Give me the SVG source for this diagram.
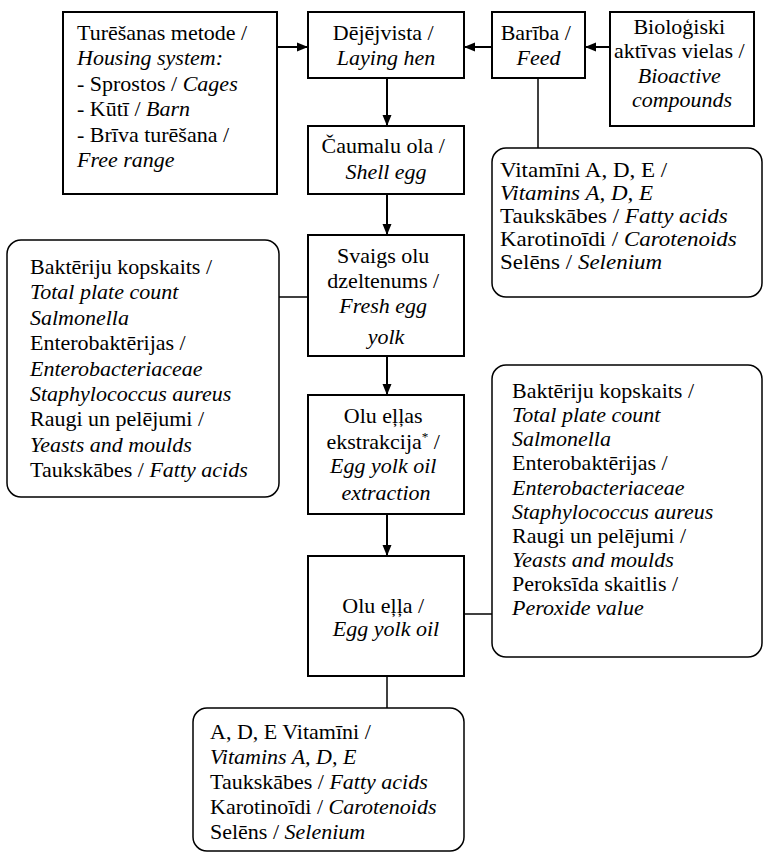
<svg xmlns="http://www.w3.org/2000/svg" width="763" height="856" viewBox="0 0 763 856" font-family="'Liberation Serif', 'Times New Roman', Times, serif">
<style>
.box{fill:#fff;stroke:#000;stroke-width:2}
.rbox{fill:#fff;stroke:#000;stroke-width:1.5}
.ln{fill:none;stroke:#000;stroke-width:1.5}
.ar{fill:none;stroke:#000;stroke-width:2;marker-end:url(#ah)}
.t{font-family:'Liberation Serif','Times New Roman',Times,serif;font-size:20px;fill:#000}
.c{text-anchor:middle}
.i{font-style:italic}
</style>
<defs>
<marker id="ah" markerUnits="userSpaceOnUse" markerWidth="12" markerHeight="10" refX="11" refY="5" orient="auto">
<path d="M0,0.5 L11,5 L0,9.5 z" fill="#000"/>
</marker>
</defs>
<rect width="763" height="856" fill="#fff"/>
<g id="connectors">
<line class="ar" x1="277" y1="47" x2="308" y2="47"/>
<line class="ar" x1="492" y1="47" x2="464" y2="47"/>
<line class="ar" x1="610" y1="47" x2="585" y2="47"/>
<line class="ar" x1="387" y1="78" x2="387" y2="126"/>
<line class="ar" x1="387" y1="194" x2="387" y2="235"/>
<line class="ar" x1="387" y1="356" x2="387" y2="395"/>
<line class="ar" x1="387" y1="514" x2="387" y2="556"/>
<line class="ln" x1="538" y1="78" x2="538" y2="148"/>
<line class="ln" x1="279" y1="297" x2="308" y2="297"/>
<line class="ln" x1="464" y1="614" x2="492" y2="614"/>
<line class="ln" x1="387" y1="676" x2="387" y2="708"/>
</g>
<g id="housing">
<rect class="box" x="63" y="12" width="214" height="182"/>
<text class="t" transform="translate(77,0) scale(1.1,1)">
<tspan x="0" y="40">Turēšanas metode /</tspan>
<tspan x="0" y="65.5" class="i">Housing system:</tspan>
<tspan x="0" y="91">- Sprostos / <tspan class="i">Cages</tspan></tspan>
<tspan x="0" y="116">- Kūtī / <tspan class="i">Barn</tspan></tspan>
<tspan x="0" y="142">- Brīva turēšana /</tspan>
<tspan x="0" y="167" class="i">Free range</tspan>
</text>
</g>
<g id="hen">
<rect class="box" x="308" y="12" width="156" height="66"/>
<text class="t c" transform="translate(386,0) scale(1.1,1)">
<tspan x="0" y="40">Dējējvista /</tspan>
<tspan x="0" y="65.5" class="i">Laying hen</tspan>
</text>
</g>
<g id="feed">
<rect class="box" x="492" y="12" width="93" height="66"/>
<text class="t c" transform="translate(538.5,0) scale(1.1,1)">
<tspan x="0" y="40">Barība /</tspan>
<tspan x="0" y="65.5" class="i">Feed</tspan>
</text>
</g>
<g id="bioactive">
<rect class="box" x="610" y="12" width="144" height="114"/>
<text class="t c" transform="translate(682,0) scale(1.1,1)">
<tspan x="0" y="34">Bioloģiski</tspan>
<tspan x="0" y="58.5">aktīvas vielas /</tspan>
<tspan x="0" y="83" class="i">Bioactive</tspan>
<tspan x="0" y="107.5" class="i">compounds</tspan>
</text>
</g>
<g id="feed-params">
<rect class="rbox" x="492" y="148" width="270" height="149" rx="14"/>
<text class="t" transform="translate(500,0) scale(1.15,1)">
<tspan x="0" y="177">Vitamīni A, D, E /</tspan>
<tspan x="0" y="200" class="i">Vitamins A, D, E</tspan>
<tspan x="0" y="223">Taukskābes / <tspan class="i">Fatty acids</tspan></tspan>
<tspan x="0" y="246">Karotinoīdi / <tspan class="i">Carotenoids</tspan></tspan>
<tspan x="0" y="269">Selēns / <tspan class="i">Selenium</tspan></tspan>
</text>
</g>
<g id="shell-egg">
<rect class="box" x="308" y="126" width="156" height="68"/>
<text class="t c" transform="translate(386,0) scale(1.1,1)">
<tspan x="0" y="153">Čaumalu ola /</tspan>
<tspan x="0" y="179" class="i">Shell egg</tspan>
</text>
</g>
<g id="fresh-yolk">
<rect class="box" x="308" y="235" width="156" height="121"/>
<text class="t c" transform="translate(386,0) scale(1.1,1)">
<tspan x="0" y="263">Svaigs olu</tspan>
<tspan x="0" y="288">dzeltenums /</tspan>
<tspan x="0" y="313" class="i">Fresh egg</tspan>
<tspan x="0" y="344" class="i">yolk</tspan>
</text>
</g>
<g id="yolk-params">
<rect class="rbox" x="7" y="240" width="272" height="257" rx="14"/>
<text class="t" transform="translate(30,0) scale(1.1,1)">
<tspan x="0" y="274">Baktēriju kopskaits /</tspan>
<tspan x="0" y="299.5" class="i">Total plate count</tspan>
<tspan x="0" y="325" class="i">Salmonella</tspan>
<tspan x="0" y="350">Enterobaktērijas /</tspan>
<tspan x="0" y="376" class="i">Enterobacteriaceae</tspan>
<tspan x="0" y="401" class="i">Staphylococcus aureus</tspan>
<tspan x="0" y="426.5">Raugi un pelējumi /</tspan>
<tspan x="0" y="452" class="i">Yeasts and moulds</tspan>
<tspan x="0" y="477">Taukskābes / <tspan class="i">Fatty acids</tspan></tspan>
</text>
</g>
<g id="extraction">
<rect class="box" x="308" y="395" width="156" height="119"/>
<text class="t c" transform="translate(386,0) scale(1.1,1)">
<tspan x="0" y="423">Olu eļļas</tspan>
<tspan x="0" y="449">ekstrakcija<tspan dy="-8" font-size="12">*</tspan><tspan dy="8"> /</tspan></tspan>
<tspan x="0" y="473" class="i">Egg yolk oil</tspan>
<tspan x="0" y="500" class="i">extraction</tspan>
</text>
</g>
<g id="oil-params">
<rect class="rbox" x="492" y="365" width="270" height="292" rx="14"/>
<text class="t" transform="translate(512,0) scale(1.1,1)">
<tspan x="0" y="398">Baktēriju kopskaits /</tspan>
<tspan x="0" y="422.5" class="i">Total plate count</tspan>
<tspan x="0" y="446.5" class="i">Salmonella</tspan>
<tspan x="0" y="470.5">Enterobaktērijas /</tspan>
<tspan x="0" y="495" class="i">Enterobacteriaceae</tspan>
<tspan x="0" y="519" class="i">Staphylococcus aureus</tspan>
<tspan x="0" y="543">Raugi un pelējumi /</tspan>
<tspan x="0" y="567" class="i">Yeasts and moulds</tspan>
<tspan x="0" y="591">Peroksīda skaitlis /</tspan>
<tspan x="0" y="615" class="i">Peroxide value</tspan>
</text>
</g>
<g id="oil">
<rect class="box" x="308" y="556" width="156" height="120"/>
<text class="t c" transform="translate(386,0) scale(1.1,1)">
<tspan x="0" y="613">Olu eļļa /</tspan>
<tspan x="0" y="636" class="i">Egg yolk oil</tspan>
</text>
</g>
<g id="oil-nutrients">
<rect class="rbox" x="193" y="708" width="271" height="143" rx="14"/>
<text class="t" transform="translate(210,0) scale(1.1,1)">
<tspan x="0" y="739">A, D, E Vitamīni /</tspan>
<tspan x="0" y="764" class="i">Vitamins A, D, E</tspan>
<tspan x="0" y="789">Taukskābes / <tspan class="i">Fatty acids</tspan></tspan>
<tspan x="0" y="814">Karotinoīdi / <tspan class="i">Carotenoids</tspan></tspan>
<tspan x="0" y="839">Selēns / <tspan class="i">Selenium</tspan></tspan>
</text>
</g>
</svg>
